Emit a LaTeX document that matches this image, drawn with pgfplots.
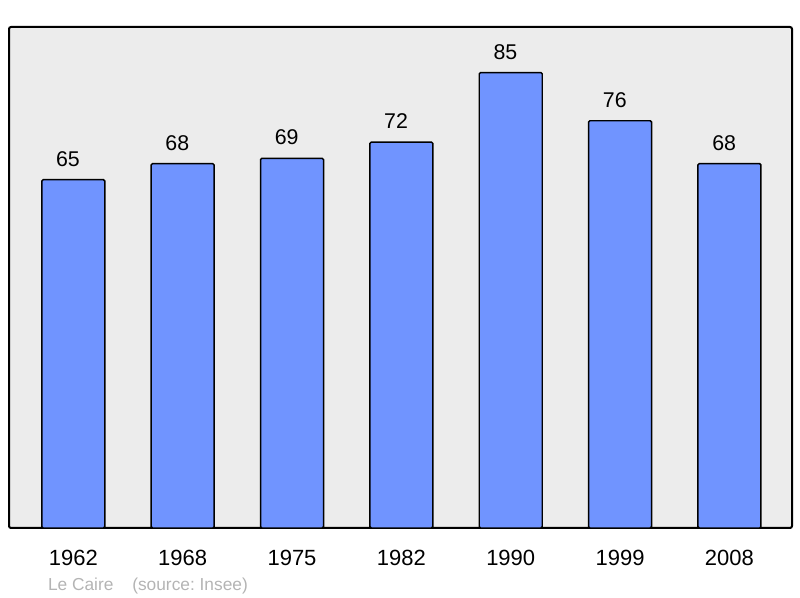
\documentclass[border=0pt]{standalone}
\usepackage{pgfplots}
\pgfplotsset{compat=1.18}
\usepackage{fontspec}
\setmainfont{Liberation Sans}
\frenchspacing
\definecolor{barblue}{HTML}{7094FF}
\definecolor{bggray}{HTML}{ECECEC}
\definecolor{srcgray}{HTML}{B4B4B4}
\begin{document}
\begin{tikzpicture}
\path[use as bounding box] (0,0) rectangle (600pt,448.5pt);
\begin{axis}[
  at={(6.75pt,52.5pt)}, anchor=south west,
  scale only axis, width=587.25pt, height=375.75pt,
  xmin=-0.588, xmax=6.572, ymin=0, ymax=93.5,
  axis background/.style={fill=bggray},
  axis line style={line width=1.5pt, rounded corners=1.5pt},
  ytick=\empty,
  xtick=data,
  xticklabels={1962,1968,1975,1982,1990,1999,2008},
  major tick length=0pt,
  xticklabel style={font=\fontsize{16.5}{19}\selectfont, anchor=north, inner sep=0pt, yshift=-16.5pt},
  /pgf/number format/assume math mode=true,
  nodes near coords,
  every node near coord/.append style={font=\fontsize{16}{19}\selectfont, anchor=base, inner sep=0pt, yshift=10pt, xshift=-4pt},
]
\addplot[ybar, bar width=47.25pt, fill=barblue, draw=black, line width=1.1pt, rounded corners=1pt] coordinates {
(0,65) (1,68) (2,69) (3,72) (4,85) (5,76) (6,68)};
\end{axis}
\node[anchor=base west, inner sep=0pt, text=srcgray, font=\fontsize{13}{15}\selectfont] at (35.8pt,5.5pt) {Le Caire};
\node[anchor=base west, inner sep=0pt, text=srcgray, font=\fontsize{13}{15}\selectfont] at (99pt,5.5pt) {(source: Insee)};
\end{tikzpicture}
\end{document}
